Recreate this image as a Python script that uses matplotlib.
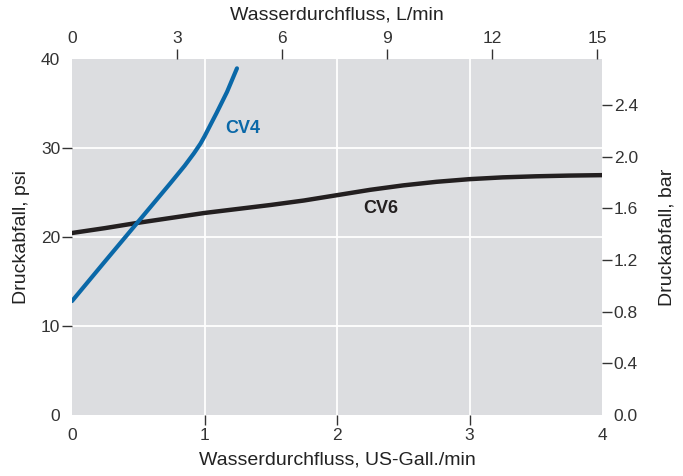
import matplotlib.pyplot as plt

plt.rcParams['font.family'] = ['Liberation Sans Narrow', 'Liberation Sans', 'DejaVu Sans']

# flow in US gal/min, pressure drop in psi
cv4_flow = [0.0, 0.24, 0.49, 0.74, 0.85, 0.92, 0.97, 1.0, 1.05, 1.09, 1.17, 1.245]
cv4_psi = [12.8, 17.1, 21.55, 26.0, 28.0, 29.4, 30.5, 31.3, 32.75, 33.9, 36.3, 38.95]

cv6_flow = [0.0, 0.25, 0.5, 0.75, 1.0, 1.25, 1.5, 1.75, 2.0, 2.25, 2.5, 2.75, 3.0, 3.25, 3.5, 3.75, 4.0]
cv6_psi = [20.45, 21.0, 21.6, 22.15, 22.7, 23.15, 23.6, 24.1, 24.7, 25.3, 25.8, 26.2, 26.5, 26.7, 26.82, 26.9, 26.95]

gal_ticks = [0, 1, 2, 3, 4]
psi_ticks = [0, 10, 20, 30, 40]
lpm_ticks = [0, 3, 6, 9, 12, 15]
bar_ticks = [0.0, 0.4, 0.8, 1.2, 1.6, 2.0, 2.4]

GAL_TO_L = 3.785411784
PSI_TO_BAR = 0.0689476

tick_col = '#333333'
text_col = '#222222'

fig = plt.figure(figsize=(6.83, 4.76), dpi=100)
ax = fig.add_axes([72 / 683, 61 / 476, 530 / 683, 356 / 476])
ax.set_facecolor('#dcdde0')
for s in ax.spines.values():
    s.set_visible(False)

ax.set_xlim(0, 4)
ax.set_ylim(0, 40)
ax.set_xticks(gal_ticks)
ax.set_yticks(psi_ticks)
ax.grid(True, color='white', lw=1.3)
ax.set_axisbelow(True)

tp = dict(direction='out', length=7.5, width=1.0, color=tick_col,
          labelcolor=tick_col, labelsize=12.5)
ax.tick_params(axis='x', pad=2, **tp)
ax.tick_params(axis='y', pad=1, **tp)

# no tick marks / grid lines on the plot edges
for t in (ax.xaxis.get_major_ticks()[0], ax.xaxis.get_major_ticks()[-1],
          ax.yaxis.get_major_ticks()[0], ax.yaxis.get_major_ticks()[-1]):
    t.tick1line.set_visible(False)
    t.gridline.set_visible(False)

ax.plot(cv6_flow, cv6_psi, color='#231f20', lw=3.2, solid_capstyle='round',
        solid_joinstyle='round', zorder=3)
ax.plot(cv4_flow, cv4_psi, color='#0a68a8', lw=3.0, solid_capstyle='round',
        solid_joinstyle='round', zorder=4)

ax.text(1.29, 32.2, 'CV4', color='#0a68a8', fontsize=13, fontweight='bold',
        ha='center', va='center')
ax.text(2.33, 23.2, 'CV6', color='#231f20', fontsize=13, fontweight='bold',
        ha='center', va='center')

ax.set_xlabel('Wasserdurchfluss, US-Gall./min', fontsize=14, color=text_col, labelpad=6)
ax.set_ylabel('Druckabfall, psi', fontsize=14, color=text_col, labelpad=8)

top = ax.secondary_xaxis('top', functions=(lambda g: g * GAL_TO_L, lambda l: l / GAL_TO_L))
top.set_xticks(lpm_ticks)
top.tick_params(axis='x', pad=2, **tp)
top.spines['top'].set_visible(False)
top.xaxis.get_major_ticks()[0].tick2line.set_visible(False)
top.xaxis.get_major_ticks()[0].tick1line.set_visible(False)
top.set_xlabel('Wasserdurchfluss, L/min', fontsize=14, color=text_col, labelpad=8)

right = ax.secondary_yaxis('right', functions=(lambda p: p * PSI_TO_BAR, lambda b: b / PSI_TO_BAR))
right.set_yticks(bar_ticks)
right.set_yticklabels([f'{b:.1f}' for b in bar_ticks])
right.tick_params(axis='y', pad=1, **tp)
right.spines['right'].set_visible(False)
right.yaxis.get_major_ticks()[0].tick2line.set_visible(False)
right.yaxis.get_major_ticks()[0].tick1line.set_visible(False)
right.set_ylabel('Druckabfall, bar', fontsize=14, color=text_col, labelpad=15)

fig.savefig('out.png', dpi=100)
